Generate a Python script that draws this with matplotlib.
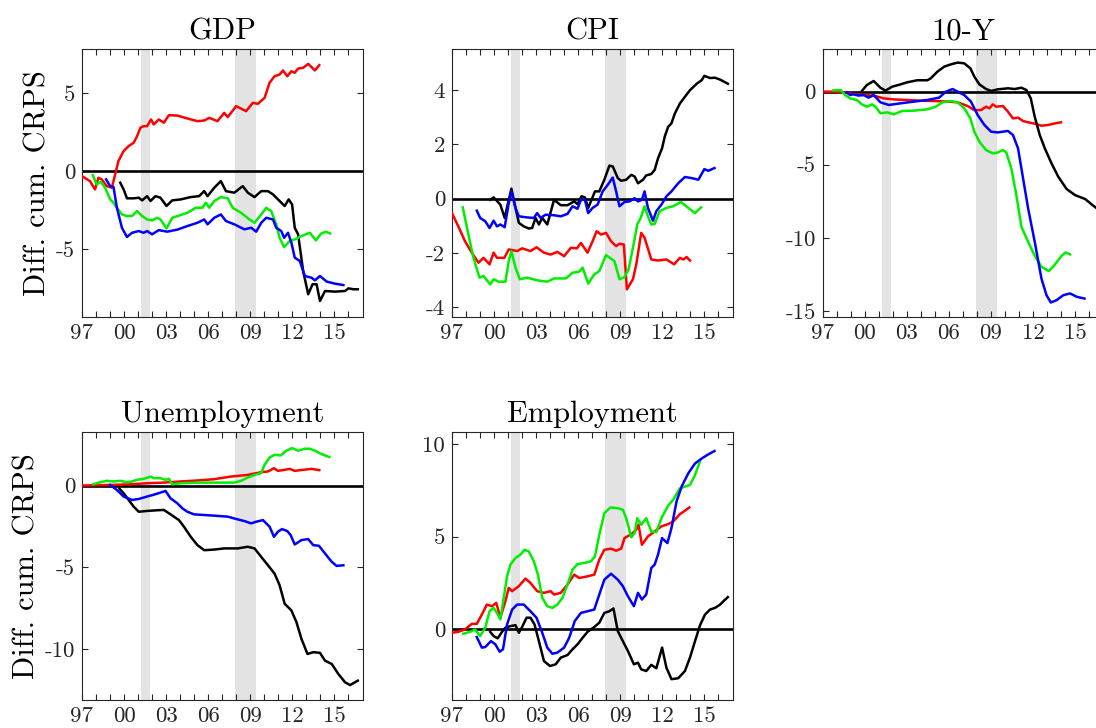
import matplotlib.pyplot as plt
import numpy as np

plt.rcParams['font.family'] = ['cmr10', 'DejaVu Serif']
plt.rcParams['axes.unicode_minus'] = False
plt.rcParams['mathtext.fontset'] = 'cm'

# %% Data
x_ticks = [1997, 2000, 2003, 2006, 2009, 2012, 2015]
x_tick_labels = ['97', '00', '03', '06', '09', '12', '15']
recessions = [(2001.2, 2001.85), (2007.95, 2009.45)]

# GDP
gdp_red_x = [1997.0, 1997.57, 1997.93, 1998.17, 1998.41, 1998.77, 1999.13, 1999.37, 1999.6, 1999.97,
             2000.33, 2000.69, 2000.93, 2001.17, 2001.4, 2001.65, 2001.93, 2002.12, 2002.48, 2002.84,
             2003.2, 2003.8, 2004.52, 2005.24, 2005.72, 2006.08, 2006.67, 2007.15, 2007.4, 2008.0,
             2008.71, 2009.19, 2009.55, 2010.03, 2010.38, 2010.74, 2011.1, 2011.34, 2011.65, 2011.94,
             2012.18, 2012.42, 2012.78, 2013.14, 2013.38, 2013.62, 2013.93]
gdp_red_y = [-0.32, -0.64, -1.17, -0.43, -0.53, -0.96, -1.06, -0.21, 0.64, 1.28,
             1.6, 1.81, 2.23, 2.77, 2.87, 2.87, 3.3, 2.98, 3.3, 3.09,
             3.57, 3.55, 3.36, 3.19, 3.23, 3.4, 3.19, 3.72, 3.45, 4.15,
             3.83, 4.36, 4.3, 4.68, 5.64, 6.06, 6.17, 6.43, 6.06, 6.38,
             6.28, 6.55, 6.6, 6.85, 6.64, 6.43, 6.77]
gdp_black_x = [1999.73, 1999.97, 2000.21, 2000.69, 2001.05, 2001.29, 2001.65, 2001.89, 2002.24, 2002.6,
               2003.03, 2003.44, 2004.04, 2004.76, 2005.36, 2005.72, 2005.96, 2006.44, 2006.91, 2007.27,
               2007.87, 2008.47, 2008.83, 2009.31, 2009.79, 2010.27, 2010.63, 2011.1, 2011.46, 2011.75,
               2011.99, 2012.18, 2012.42, 2012.78, 2013.14, 2013.45, 2013.74, 2013.98, 2014.34, 2015.05,
               2015.77, 2016.01, 2016.37, 2016.68]
gdp_black_y = [-0.74, -1.17, -1.74, -1.74, -1.7, -1.87, -1.6, -1.91, -1.6, -1.7,
               -2.23, -1.87, -1.81, -1.66, -1.6, -1.28, -1.6, -1.06, -0.64, -1.28,
               -1.38, -0.96, -1.38, -1.66, -1.28, -1.28, -1.49, -1.91, -2.23, -1.81,
               -2.13, -3.62, -4.04, -6.38, -7.87, -7.23, -7.23, -8.3, -7.66, -7.7,
               -7.66, -7.49, -7.55, -7.55]
gdp_green_x = [1997.77, 1998.05, 1998.34, 1998.65, 1999.01, 1999.25, 1999.49, 1999.85, 2000.21, 2000.57,
               2000.93, 2001.29, 2001.65, 2002.0, 2002.36, 2002.6, 2003.03, 2003.44, 2004.04, 2004.52,
               2005.12, 2005.6, 2005.84, 2006.08, 2006.44, 2006.91, 2007.4, 2007.75, 2008.35, 2008.95,
               2009.31, 2009.79, 2010.15, 2010.5, 2010.86, 2011.1, 2011.42, 2011.82, 2012.18, 2012.66,
               2013.26, 2013.69, 2014.05, 2014.39, 2014.7]
gdp_green_y = [-0.26, -0.85, -0.68, -1.06, -1.81, -2.02, -2.34, -2.77, -2.87, -2.87,
               -2.55, -2.87, -3.09, -3.15, -2.98, -3.09, -3.66, -2.98, -2.81, -2.66,
               -2.34, -2.34, -2.02, -2.34, -1.91, -1.66, -1.74, -2.34, -2.66, -3.09,
               -3.3, -2.77, -2.34, -2.55, -3.4, -4.26, -4.85, -4.47, -4.36, -4.15,
               -3.94, -4.43, -4.0, -3.87, -3.98]
gdp_blue_x = [1998.72, 1999.01, 1999.25, 1999.49, 1999.85, 2000.21, 2000.57, 2001.05, 2001.4, 2001.65,
              2002.0, 2002.48, 2003.08, 2003.8, 2004.52, 2005.24, 2005.72, 2005.96, 2006.44, 2006.91,
              2007.27, 2007.87, 2008.59, 2009.07, 2009.43, 2009.79, 2010.15, 2010.63, 2010.86, 2011.22,
              2011.42, 2011.7, 2011.94, 2012.18, 2012.54, 2012.9, 2013.38, 2013.62, 2013.98, 2014.46,
              2015.05, 2015.65]
gdp_blue_y = [-0.53, -0.96, -1.02, -2.34, -3.62, -4.21, -3.94, -3.83, -3.94, -3.83,
              -4.04, -3.77, -3.87, -3.74, -3.51, -3.3, -3.09, -3.4, -2.98, -2.77,
              -3.19, -3.4, -3.72, -3.62, -3.87, -3.3, -2.98, -3.09, -3.62, -3.83,
              -4.26, -3.94, -4.57, -5.53, -5.74, -6.7, -6.81, -6.98, -6.7, -7.06,
              -7.19, -7.28]

# CPI
cpi_red_x = [1997.0, 1997.45, 1997.93, 1998.41, 1998.89, 1999.25, 1999.68, 1999.97, 2000.21, 2000.74,
             2001.05, 2001.65, 2002.0, 2002.6, 2003.03, 2003.56, 2004.04, 2004.52, 2005.0, 2005.48,
             2005.91, 2006.2, 2006.67, 2007.03, 2007.32, 2007.63, 2007.99, 2008.35, 2008.71, 2008.95,
             2009.26, 2009.48, 2009.91, 2010.15, 2010.5, 2010.74, 2011.22, 2011.7, 2012.3, 2012.85,
             2013.26, 2013.5, 2013.74, 2013.98]
cpi_red_y = [-0.53, -1.02, -1.57, -1.99, -2.36, -2.18, -2.42, -1.99, -2.18, -2.18,
             -1.87, -1.93, -1.83, -1.93, -1.79, -1.99, -2.06, -1.96, -2.12, -1.81,
             -1.83, -1.63, -1.99, -1.57, -1.2, -1.32, -1.26, -1.57, -1.75, -1.66,
             -1.69, -3.34, -2.97, -2.42, -1.26, -1.44, -2.24, -2.28, -2.24, -2.42,
             -2.18, -2.24, -2.15, -2.28]
cpi_black_x = [1999.73, 1999.97, 2000.45, 2000.76, 2000.98, 2001.24, 2001.48, 2001.77, 2002.12, 2002.48,
               2002.72, 2002.96, 2003.2, 2003.44, 2003.8, 2004.28, 2004.76, 2005.24, 2005.72, 2005.96,
               2006.24, 2006.48, 2006.72, 2007.2, 2007.51, 2007.87, 2008.23, 2008.47, 2008.83, 2009.07,
               2009.43, 2009.79, 2010.03, 2010.27, 2010.63, 2010.86, 2011.22, 2011.46, 2011.7, 2011.99,
               2012.18, 2012.42, 2012.66, 2012.9, 2013.26, 2013.62, 2013.98, 2014.46, 2014.82, 2015.0,
               2015.41, 2015.77, 2016.13, 2016.68]
cpi_black_y = [-0.04, 0.05, -0.22, -0.71, -0.2, 0.37, -0.22, -0.89, -1.02, -1.1,
               -1.08, -0.71, -0.95, -0.71, -0.95, -0.04, -0.24, -0.24, -0.1, -0.2,
               0.09, 0.05, -0.34, 0.27, 0.27, 0.7, 1.22, 1.19, 0.76, 0.66,
               0.7, 0.88, 0.82, 0.57, 0.7, 0.86, 0.91, 1.06, 1.49, 1.86,
               2.29, 2.65, 2.78, 3.14, 3.51, 3.76, 4.0, 4.24, 4.37, 4.53,
               4.45, 4.46, 4.39, 4.24]
cpi_green_x = [1997.77, 1998.17, 1998.53, 1998.96, 1999.25, 1999.73, 1999.97, 2000.33, 2000.81, 2001.05,
               2001.24, 2001.53, 2001.84, 2002.36, 2003.08, 2003.8, 2004.28, 2005.12, 2005.6, 2006.08,
               2006.32, 2006.72, 2007.15, 2007.51, 2007.99, 2008.59, 2008.95, 2009.31, 2009.6, 2009.91,
               2010.22, 2010.46, 2010.74, 2010.98, 2011.22, 2011.46, 2011.82, 2012.3, 2012.78, 2013.33,
               2013.86, 2014.34, 2014.77]
cpi_green_y = [-0.32, -1.32, -2.18, -2.91, -2.85, -3.16, -2.97, -3.06, -3.06, -2.3,
               -1.93, -2.54, -2.97, -2.91, -3.01, -3.06, -2.94, -2.94, -2.73, -2.69,
               -2.54, -3.13, -2.79, -2.67, -2.08, -2.3, -2.97, -2.89, -2.6, -1.81,
               -0.95, -0.71, -0.28, -0.65, -0.95, -0.93, -0.46, -0.34, -0.28, -0.12,
               -0.34, -0.53, -0.32]
cpi_blue_x = [1998.77, 1999.01, 1999.37, 1999.68, 1999.97, 2000.21, 2000.45, 2000.76, 2001.05, 2001.24,
              2001.53, 2001.77, 2002.36, 2002.84, 2003.08, 2003.32, 2003.68, 2004.28, 2004.76, 2005.24,
              2005.6, 2005.96, 2006.2, 2006.48, 2006.72, 2007.03, 2007.39, 2007.75, 2008.11, 2008.47,
              2008.71, 2008.95, 2009.31, 2009.67, 2010.03, 2010.27, 2010.55, 2010.74, 2010.98, 2011.34,
              2011.58, 2011.94, 2012.3, 2012.66, 2013.14, 2013.62, 2014.1, 2014.58, 2015.0, 2015.29,
              2015.73]
cpi_blue_y = [-0.44, -0.71, -0.83, -1.08, -0.81, -1.02, -0.95, -1.05, -0.16, 0.27,
              -0.34, -0.65, -0.69, -0.71, -0.53, -0.71, -0.59, -0.61, -0.65, -0.56,
              -0.28, -0.37, -0.04, -0.04, -0.53, -0.34, -0.22, 0.27, 0.51, 0.78,
              0.27, -0.28, -0.12, -0.1, 0.02, -0.1, -0.04, 0.27, -0.34, -0.81,
              -0.46, -0.22, 0.09, 0.27, 0.57, 0.8, 0.76, 0.7, 1.09, 1.03,
              1.13]

# 10-Y
ty_red_x = [1997.0, 1997.77, 1998.48, 1999.2, 1999.92, 2000.64, 2001.36, 2002.08, 2003.03, 2003.99,
            2004.95, 2005.91, 2006.63, 2007.34, 2007.82, 2008.3, 2008.66, 2008.9, 2009.14, 2009.38,
            2009.86, 2010.22, 2010.58, 2010.94, 2011.3, 2011.66, 2012.13, 2012.61, 2013.09, 2013.57,
            2014.0]
ty_red_y = [0.0, 0.0, -0.05, -0.16, -0.23, -0.27, -0.46, -0.53, -0.57, -0.62,
            -0.64, -0.68, -0.73, -0.98, -1.26, -1.26, -1.03, -1.14, -0.87, -1.03,
            -0.98, -1.37, -1.83, -1.78, -2.01, -2.1, -2.19, -2.33, -2.28, -2.17,
            -2.1]
ty_black_x = [1999.8, 2000.16, 2000.64, 2001.12, 2001.48, 2001.96, 2002.56, 2003.03, 2003.75, 2004.47,
              2004.71, 2005.19, 2005.67, 2006.15, 2006.63, 2007.1, 2007.54, 2007.82, 2008.18, 2008.66,
              2009.02, 2009.5, 2010.22, 2010.7, 2011.18, 2011.54, 2011.85, 2012.13, 2012.49, 2012.85,
              2013.33, 2013.81, 2014.41, 2015.01, 2015.73, 2016.2, 2016.56, 2016.75]
ty_black_y = [0.05, 0.46, 0.73, 0.27, 0.07, 0.34, 0.5, 0.64, 0.78, 0.78,
              0.91, 1.37, 1.71, 1.87, 1.99, 1.94, 1.6, 1.03, 0.5, 0.18,
              0.05, 0.16, 0.23, 0.18, 0.27, 0.11, -0.46, -1.71, -2.97, -3.88,
              -4.91, -5.82, -6.67, -7.08, -7.35, -7.72, -7.99, -8.1]
ty_green_x = [1997.77, 1998.29, 1998.6, 1998.96, 1999.44, 1999.8, 2000.16, 2000.52, 2000.76, 2001.12,
              2001.6, 2002.08, 2002.68, 2003.51, 2004.47, 2005.07, 2005.55, 2006.15, 2006.63, 2007.1,
              2007.54, 2007.82, 2008.18, 2008.66, 2009.14, 2009.5, 2009.86, 2010.1, 2010.46, 2010.82,
              2011.18, 2011.66, 2012.13, 2012.61, 2013.14, 2013.57, 2014.05, 2014.34, 2014.65]
ty_green_y = [0.09, 0.11, -0.23, -0.46, -0.57, -0.87, -1.03, -0.87, -1.03, -1.48,
              -1.42, -1.55, -1.32, -1.3, -1.21, -1.03, -0.73, -0.64, -0.73, -1.14,
              -1.83, -2.74, -3.42, -4.0, -4.22, -4.16, -4.0, -4.16, -5.25, -7.08,
              -9.25, -10.27, -11.23, -11.99, -12.28, -11.83, -11.23, -11.0, -11.14]
ty_blue_x = [1998.72, 1998.96, 1999.2, 1999.56, 1999.92, 2000.28, 2000.64, 2001.12, 2001.72, 2002.56,
             2003.51, 2004.47, 2005.31, 2005.79, 2006.27, 2006.63, 2007.1, 2007.58, 2008.06, 2008.54,
             2009.02, 2009.5, 2010.22, 2010.58, 2010.94, 2011.3, 2011.66, 2012.13, 2012.61, 2012.97,
             2013.28, 2013.69, 2014.17, 2014.65, 2015.13, 2015.68]
ty_blue_y = [-0.05, -0.23, -0.18, -0.27, -0.23, -0.41, -0.23, -0.73, -0.91, -0.8,
             -0.68, -0.57, -0.41, 0.0, 0.18, 0.0, -0.23, -0.68, -1.6, -2.28,
             -2.74, -2.79, -2.69, -2.97, -3.88, -5.94, -7.99, -10.27, -12.79, -13.93,
             -14.43, -14.27, -13.93, -13.81, -14.04, -14.16]

# Unemployment
un_red_x = [1997.0, 1998.05, 1999.25, 2000.45, 2001.65, 2002.84, 2004.04, 2005.24, 2006.44, 2007.63,
            2008.83, 2009.79, 2010.27, 2010.7, 2010.98, 2011.46, 2011.82, 2012.18, 2012.78, 2013.38,
            2013.93]
un_red_y = [0.0, 0.02, 0.04, 0.08, 0.14, 0.18, 0.25, 0.31, 0.39, 0.55,
            0.65, 0.82, 0.86, 1.06, 0.9, 0.96, 1.02, 0.9, 0.96, 1.02,
            0.94]
un_black_x = [1999.68, 1999.97, 2000.33, 2000.69, 2001.05, 2001.65, 2002.36, 2002.84, 2003.32, 2003.92,
              2004.28, 2004.76, 2005.24, 2005.72, 2006.44, 2007.15, 2008.11, 2008.83, 2009.31, 2009.79,
              2010.27, 2010.74, 2011.1, 2011.46, 2011.94, 2012.3, 2012.66, 2013.09, 2013.5, 2013.98,
              2014.34, 2014.82, 2015.29, 2015.77, 2016.13, 2016.37, 2016.68]
un_black_y = [-0.2, -0.47, -0.88, -1.29, -1.6, -1.55, -1.51, -1.49, -1.76, -2.11,
              -2.52, -3.13, -3.64, -3.95, -3.91, -3.84, -3.84, -3.74, -3.84, -4.36,
              -4.87, -5.38, -6.09, -7.22, -7.63, -8.34, -9.37, -10.29, -10.18, -10.22,
              -10.7, -10.9, -11.51, -12.02, -12.19, -12.07, -11.92]
un_green_x = [1997.81, 1998.29, 1998.77, 1999.25, 1999.73, 2000.21, 2000.57, 2000.93, 2001.41, 2001.89,
              2002.12, 2002.6, 2002.96, 2003.2, 2003.44, 2004.04, 2005.24, 2006.44, 2007.87, 2008.35,
              2008.83, 2009.31, 2009.79, 2010.03, 2010.39, 2010.74, 2011.18, 2011.58, 2011.99, 2012.42,
              2012.9, 2013.26, 2013.62, 2014.1, 2014.65]
un_green_y = [0.08, 0.2, 0.29, 0.25, 0.29, 0.2, 0.25, 0.35, 0.41, 0.55,
              0.45, 0.45, 0.35, 0.41, 0.08, 0.14, 0.18, 0.18, 0.18, 0.29,
              0.49, 0.65, 0.76, 1.27, 1.72, 1.88, 1.84, 2.13, 2.29, 2.13,
              2.25, 2.25, 2.13, 1.92, 1.74]
un_blue_x = [1999.01, 1999.49, 1999.97, 2000.57, 2001.05, 2001.65, 2002.24, 2002.96, 2003.32, 2003.8,
             2004.16, 2004.52, 2005.0, 2005.72, 2006.44, 2007.39, 2007.99, 2008.59, 2009.07, 2009.43,
             2009.91, 2010.39, 2010.7, 2010.98, 2011.27, 2011.65, 2011.89, 2012.18, 2012.66, 2013.14,
             2013.5, 2013.91, 2014.34, 2014.82, 2015.17, 2015.65]
un_blue_y = [0.04, -0.27, -0.67, -0.88, -0.82, -0.67, -0.53, -0.33, -0.78, -1.08,
             -1.39, -1.6, -1.76, -1.8, -1.84, -1.9, -2.04, -2.17, -2.31, -2.21,
             -2.11, -2.52, -3.13, -2.82, -2.66, -2.78, -3.03, -3.6, -3.33, -3.27,
             -3.64, -3.68, -4.15, -4.66, -4.91, -4.87]

# Employment
em_red_x = [1997.0, 1997.45, 1997.93, 1998.41, 1998.77, 1999.13, 1999.49, 1999.85, 2000.16, 2000.45,
            2000.81, 2001.05, 2001.29, 2001.77, 2002.24, 2002.6, 2003.08, 2003.56, 2004.04, 2004.28,
            2004.76, 2005.24, 2005.72, 2006.08, 2006.67, 2007.15, 2007.51, 2007.87, 2008.35, 2008.71,
            2009.07, 2009.31, 2009.79, 2010.15, 2010.31, 2010.55, 2010.98, 2011.46, 2011.94, 2012.42,
            2012.78, 2013.26, 2013.62, 2013.93]
em_red_y = [-0.18, -0.13, 0.0, 0.3, 0.3, 0.8, 1.34, 1.25, 1.43, 0.63,
            1.52, 2.24, 2.06, 2.33, 2.74, 2.5, 2.06, 1.97, 2.06, 1.88,
            1.97, 2.42, 2.95, 2.77, 2.86, 2.95, 3.76, 4.29, 4.35, 4.24,
            4.35, 4.92, 5.13, 5.37, 5.64, 4.56, 5.01, 5.28, 5.55, 5.67,
            5.81, 6.21, 6.39, 6.57]
em_black_x = [1999.73, 1999.97, 2000.26, 2000.57, 2000.81, 2001.17, 2001.53, 2001.77, 2002.0, 2002.32,
              2002.6, 2002.89, 2003.2, 2003.56, 2003.99, 2004.4, 2004.76, 2005.24, 2005.6, 2005.96,
              2006.32, 2006.67, 2007.15, 2007.51, 2007.87, 2008.23, 2008.52, 2008.83, 2009.19, 2009.55,
              2009.98, 2010.27, 2010.5, 2010.86, 2011.22, 2011.58, 2011.99, 2012.3, 2012.66, 2013.14,
              2013.62, 2013.98, 2014.34, 2014.7, 2015.05, 2015.41, 2015.77, 2016.13, 2016.37, 2016.68]
em_black_y = [-0.13, -0.36, -0.48, -0.13, 0.09, 0.18, 0.23, -0.18, 0.13, 0.63,
              0.63, 0.27, -0.63, -1.7, -1.97, -1.88, -1.52, -1.38, -1.07, -0.8,
              -0.45, -0.13, 0.13, 0.36, 0.89, 0.98, 1.13, -0.09, -0.63, -1.16,
              -1.88, -1.79, -2.15, -2.24, -1.91, -2.09, -0.98, -2.06, -2.68, -2.63,
              -2.24, -1.52, -0.63, 0.23, 0.8, 1.07, 1.16, 1.34, 1.52, 1.74]
em_green_x = [1997.81, 1998.29, 1998.65, 1999.01, 1999.37, 1999.68, 1999.97, 2000.21, 2000.45, 2000.69,
              2000.93, 2001.17, 2001.53, 2001.89, 2002.17, 2002.48, 2002.84, 2003.13, 2003.44, 2003.8,
              2004.16, 2004.52, 2004.88, 2005.24, 2005.6, 2005.96, 2006.44, 2006.91, 2007.2, 2007.51,
              2007.87, 2008.3, 2008.83, 2009.19, 2009.43, 2009.79, 2010.03, 2010.22, 2010.5, 2010.86,
              2011.22, 2011.58, 2011.94, 2012.42, 2012.78, 2013.26, 2013.62, 2013.98, 2014.34, 2014.7]
em_green_y = [-0.23, -0.13, 0.0, -0.36, 0.09, 0.98, 1.16, 0.89, 0.54, 1.7,
              2.86, 3.49, 3.85, 4.03, 4.29, 4.2, 3.67, 2.95, 1.7, 1.25,
              1.16, 1.34, 1.7, 2.42, 3.22, 3.52, 3.58, 3.67, 3.94, 5.1,
              6.26, 6.57, 6.53, 6.44, 5.99, 4.96, 5.19, 5.99, 5.64, 5.99,
              5.28, 5.24, 5.99, 6.67, 6.98, 7.6, 7.69, 7.78, 8.32, 9.07]
em_blue_x = [1998.77, 1999.13, 1999.37, 1999.78, 2000.09, 2000.4, 2000.64, 2000.93, 2001.29, 2001.65,
             2002.12, 2002.6, 2003.03, 2003.44, 2003.8, 2004.16, 2004.52, 2005.0, 2005.36, 2005.76,
             2006.2, 2006.67, 2007.15, 2007.51, 2007.87, 2008.35, 2008.83, 2009.19, 2009.55, 2009.98,
             2010.27, 2010.55, 2010.86, 2011.22, 2011.46, 2011.7, 2011.99, 2012.37, 2012.66, 2013.02,
             2013.38, 2013.86, 2014.34, 2014.82, 2015.29, 2015.73]
em_blue_y = [-0.41, -0.98, -0.95, -0.63, -0.8, -1.2, -1.07, 0.27, 1.07, 1.34,
             1.34, 0.98, 0.63, -0.18, -0.98, -1.31, -1.25, -0.98, -0.45, 0.45,
             0.89, 0.98, 1.07, 1.88, 2.68, 3.0, 2.68, 2.33, 1.79, 1.25,
             1.97, 1.61, 1.88, 3.31, 3.49, 4.03, 4.92, 4.65, 5.46, 6.89,
             7.69, 8.41, 8.94, 9.21, 9.43, 9.61]

# %% Panels
panels = [
    dict(title='GDP', pos=[0.0748, 0.565, 0.2564, 0.3677], ylim=(-9.3, 7.8),
         yticks=[-5, 0, 5], ylabel=True,
         lines=[(gdp_red_x, gdp_red_y, 'red'), (gdp_black_x, gdp_black_y, 'black'),
                (gdp_green_x, gdp_green_y, 'green'), (gdp_blue_x, gdp_blue_y, 'blue')]),
    dict(title='CPI', pos=[0.4124, 0.565, 0.2564, 0.3677], ylim=(-4.35, 5.52),
         yticks=[-4, -2, 0, 2, 4], ylabel=False,
         lines=[(cpi_red_x, cpi_red_y, 'red'), (cpi_black_x, cpi_black_y, 'black'),
                (cpi_green_x, cpi_green_y, 'green'), (cpi_blue_x, cpi_blue_y, 'blue')]),
    dict(title='10-Y', pos=[0.7506, 0.565, 0.2564, 0.3677], ylim=(-15.4, 2.92),
         yticks=[-15, -10, -5, 0], ylabel=False,
         lines=[(ty_red_x, ty_red_y, 'red'), (ty_black_x, ty_black_y, 'black'),
                (ty_green_x, ty_green_y, 'green'), (ty_blue_x, ty_blue_y, 'blue')]),
    dict(title='Unemployment', pos=[0.0748, 0.0385, 0.2564, 0.3685], ylim=(-13.1, 3.29),
         yticks=[-10, -5, 0], ylabel=True,
         lines=[(un_red_x, un_red_y, 'red'), (un_black_x, un_black_y, 'black'),
                (un_green_x, un_green_y, 'green'), (un_blue_x, un_blue_y, 'blue')]),
    dict(title='Employment', pos=[0.4124, 0.0385, 0.2564, 0.3685], ylim=(-3.8, 10.65),
         yticks=[0, 5, 10], ylabel=False,
         lines=[(em_red_x, em_red_y, 'red'), (em_black_x, em_black_y, 'black'),
                (em_green_x, em_green_y, 'green'), (em_blue_x, em_blue_y, 'blue')]),
]

colors = {'red': '#ff0000', 'black': '#000000', 'green': '#00ee00', 'blue': '#0000ff'}
axis_col = '#262626'

fig = plt.figure(figsize=(10.96, 7.28), dpi=100)

for p in panels:
    ax = fig.add_axes(p['pos'])
    for a, b in recessions:
        ax.axvspan(a, b, color='#e3e3e3', lw=0, zorder=0)
    ax.axhline(0, color='black', lw=1.9, zorder=2)
    for xs, ys, c in p['lines']:
        ax.plot(xs, ys, color=colors[c], lw=1.8, zorder=3)
    ax.set_xlim(1997, 2017.05)
    ax.set_ylim(*p['ylim'])
    ax.set_xticks(x_ticks)
    ax.set_xticklabels(x_tick_labels)
    ax.set_xticks(np.arange(1998, 2017), minor=True)
    ax.set_yticks(p['yticks'])
    ax.set_yticklabels([str(v) for v in p['yticks']])
    ax.tick_params(which='both', direction='in', top=True, right=True,
                   length=4.5, width=0.8, color=axis_col, labelcolor=axis_col,
                   labelsize=16.5, pad=5)
    for s in ax.spines.values():
        s.set_color(axis_col)
        s.set_linewidth(0.8)
    ax.set_title(p['title'], fontsize=22, pad=7)
    if p['ylabel']:
        ax.set_ylabel('Diff. cum. CRPS', fontsize=22, labelpad=3)

plt.savefig('out.png', dpi=100)
